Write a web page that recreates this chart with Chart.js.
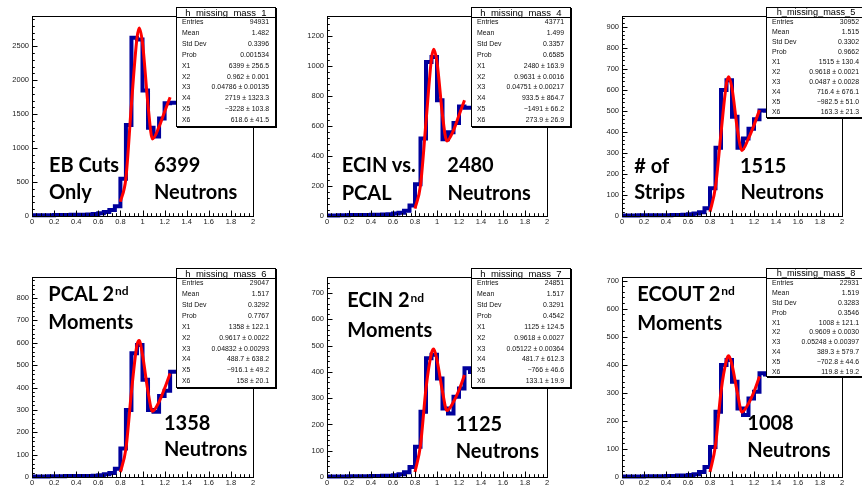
<!DOCTYPE html>
<html><head><meta charset="utf-8">
<script src="https://cdn.jsdelivr.net/npm/chart.js@4.4.1/dist/chart.umd.min.js"></script>
<style>
html,body{margin:0;padding:0;background:#fff;width:862px;height:486px;overflow:hidden;position:relative;font-family:"Liberation Sans",Arial,sans-serif;}
.pan{position:absolute;}
.stat{position:absolute;background:#fff;border:1px solid #000;box-shadow:1px 1px 0 #000;box-sizing:border-box;color:#111;width:100px;}
.stat .ttl{position:absolute;left:0;right:0;top:0;text-align:center;border-bottom:1px solid #000;box-sizing:border-box;color:#000;}
.stat .row{position:absolute;left:5px;right:6px;font-size:6.9px;white-space:nowrap;}
.stat .row .v{position:absolute;right:0;top:0;}
.big{position:absolute;font-family:Lato,"Noto Sans",sans-serif;font-weight:700;font-size:20px;line-height:20px;color:#000;white-space:nowrap;}
.big .sp{font-size:12px;position:relative;top:-5.5px;margin-left:1px;}
</style></head><body>
<script>
// ---------------- data ----------------
const binEdges = [0,0.05,0.1,0.15,0.2,0.25,0.3,0.35,0.4,0.45,0.5,0.55,0.6,0.65,0.7,0.75,0.8,0.85,0.9,0.95,1.0,1.05,1.1,1.15,1.2,1.25,1.3,1.35];
const counts1 = [10,10,12,12,13,14,15,17,19,20,23,28,40,60,90,145,550,1340,2625,2600,1850,1300,1170,1435,1660,1670,1670];
const counts2 = [4,4,5,5,6,6,7,7,8,9,10,12,16,22,35,70,212,516,1027,1060,771,512,558,620,730,722,722];
const counts3 = [2,2,2,3,3,3,3,4,4,5,5,6,8,12,18,37,132,325,599,646,472,325,368,415,460,502,500];
const counts4 = [2,2,2,3,3,3,4,4,4,5,5,6,8,12,18,37,127,299,553,590,435,300,292,362,385,470,470];
const counts5 = [2,2,2,2,3,3,3,3,4,4,5,5,7,10,18,38,115,248,452,465,375,261,242,305,337,414,400];
const counts6 = [2,2,2,2,3,3,3,3,4,4,5,5,7,10,18,36,107,233,399,417,340,244,221,280,304,370,365];

const fitX = [0.8,0.85,0.9,0.95,0.97,1.0,1.05,1.09,1.15,1.2,1.25];
const fit1 = [210,560,1650,2620,2770,2550,1630,1135,1315,1535,1750];
const fit2 = [49,205,627,1049,1111,1027,671,500,571,671,771];
const fit3 = [20,139,394,631,662,607,409,312,369,432,504];
const fit4 = [22,127,381,590,610,546,381,294,336,396,463];
const fit5 = [19,121,337,471,487,445,325,253,286,331,388];
const fit6 = [18,113,304,417,432,400,298,231,262,304,358];

const xTicks = [0,0.2,0.4,0.6,0.8,1.0,1.2,1.4,1.6,1.8,2.0];
const yTicks1 = [0,500,1000,1500,2000,2500];
const yTicks2 = [0,200,400,600,800,1000,1200];
const yTicks3 = [0,100,200,300,400,500,600,700,800,900];
const yTicks4 = [0,100,200,300,400,500,600,700,800];
const yTicks5 = [0,100,200,300,400,500,600,700];
const yTicks6 = [0,100,200,300,400,500,600,700];

const histNames = ['h_missing_mass_1','h_missing_mass_4','h_missing_mass_5','h_missing_mass_6','h_missing_mass_7','h_missing_mass_8'];
const statLabels = ['Entries','Mean','Std Dev','Prob','X1','X2','X3','X4','X5','X6'];
const stats1 = ['94931','1.482','0.3396','0.001534','6399 ± 256.5','0.962 ± 0.001','0.04786 ± 0.00135','2719 ± 1323.3','\u22123228 ± 103.8','618.6 ± 41.5'];
const stats2 = ['43771','1.499','0.3357','0.6585','2480 ± 163.9','0.9631 ± 0.0016','0.04751 ± 0.00217','933.5 ± 864.7','\u22121491 ± 66.2','273.9 ± 26.9'];
const stats3 = ['30952','1.515','0.3302','0.9662','1515 ± 130.4','0.9618 ± 0.0021','0.0487 ± 0.0028','716.4 ± 676.1','\u2212982.5 ± 51.0','163.3 ± 21.3'];
const stats4 = ['29047','1.517','0.3292','0.7767','1358 ± 122.1','0.9617 ± 0.0022','0.04832 ± 0.00293','488.7 ± 638.2','\u2212916.1 ± 49.2','158 ± 20.1'];
const stats5 = ['24851','1.517','0.3291','0.4542','1125 ± 124.5','0.9618 ± 0.0027','0.05122 ± 0.00364','481.7 ± 612.3','\u2212766 ± 46.6','133.1 ± 19.9'];
const stats6 = ['22931','1.519','0.3283','0.3546','1008 ± 121.1','0.9609 ± 0.0030','0.05248 ± 0.00397','389.3 ± 579.7','\u2212702.8 ± 44.6','119.8 ± 19.2'];

const notes1 = ['EB Cuts','Only','6399','Neutrons'];
const notes2 = ['ECIN vs.','PCAL','2480','Neutrons'];
const notes3 = ['# of','Strips','1515','Neutrons'];
const notes4 = ['PCAL 2|nd','Moments','1358','Neutrons'];
const notes5 = ['ECIN 2|nd','Moments','1125','Neutrons'];
const notes6 = ['ECOUT 2|nd','Moments','1008','Neutrons'];

// ---------------- layout (positions / sizes) ----------------
const frames = [[32,16,253,216],[327,16,547,216],[622,16,842,216],[32,277,253,477],[327,277,547,477],[622,277,842,477]];
const yMax = [2946,1333,951,894,761,713];
const yMinor = [100,40,20,20,20,20];
const boxes = [[176,7,10,10.9,9.5],[471,7,10,10.9,9.5],[766,7,10.3,9.93,9.2],[176,268,10.4,10.85,9.5],[471,268,10.4,10.85,9.5],[766,268,10.4,9.8,9.2]];
const notePos = [
  [[49,157],[49,184.5],[154,157],[154,184.8]],
  [[341.7,157.3],[341.7,185.7],[447.3,157.3],[447.6,185.7]],
  [[634.3,158.3],[634.3,184.5],[740,158.3],[740.5,184.8]],
  [[48.3,286],[48.3,314],[164,415],[164,441.7]],
  [[347.3,292.7],[347.3,322.3],[455.7,416.7],[455.7,443.3]],
  [[637.3,286],[637.3,315],[747.3,415],[747.3,442.7]]
];

const allCounts = [counts1,counts2,counts3,counts4,counts5,counts6];
const allFits = [fit1,fit2,fit3,fit4,fit5,fit6];
const allYTicks = [yTicks1,yTicks2,yTicks3,yTicks4,yTicks5,yTicks6];
const allStats = [stats1,stats2,stats3,stats4,stats5,stats6];
const allNotes = [notes1,notes2,notes3,notes4,notes5,notes6];

const PADL = 32, PADT = 8, PADR = 12, PADB = 14;

const rootAxes = {
  id: 'rootAxes',
  afterDatasetsDraw(chart, args, opts) {
    const {ctx, chartArea: a, scales: {x, y}} = chart;
    ctx.save();
    ctx.strokeStyle = '#000';
    ctx.lineWidth = 1;
    ctx.beginPath();
    const nx = Math.round((x.max - x.min) / opts.xMinor);
    for (let i = 0; i <= nx; i++) {
      const v = x.min + i * opts.xMinor;
      const px = Math.round(x.getPixelForValue(v)) + 0.5;
      const len = (i % 5 === 0) ? 5.5 : 2.8;
      ctx.moveTo(px, a.bottom);
      ctx.lineTo(px, a.bottom - len);
    }
    const ny = Math.floor(y.max / opts.yMinor + 1e-6);
    for (let i = 0; i <= ny; i++) {
      const v = i * opts.yMinor;
      const py = Math.round(y.getPixelForValue(v)) + 0.5;
      const len = (i % 5 === 0) ? 5.5 : 2.8;
      ctx.moveTo(a.left, py);
      ctx.lineTo(a.left + len, py);
    }
    ctx.stroke();
    ctx.strokeRect(Math.round(a.left) + 0.5, Math.round(a.top) + 0.5, Math.round(a.right - a.left), Math.round(a.bottom - a.top));
    ctx.restore();
  }
};

for (let p = 0; p < 6; p++) {
  const [l, t, r, b] = frames[p];
  const W = r - l + PADL + PADR, H = b - t + PADT + PADB;
  const div = document.createElement('div');
  div.className = 'pan';
  div.style.left = (l - PADL) + 'px';
  div.style.top = (t - PADT) + 'px';
  div.style.width = W + 'px';
  div.style.height = H + 'px';
  const cv = document.createElement('canvas');
  cv.width = W; cv.height = H;
  cv.style.width = W + 'px'; cv.style.height = H + 'px';
  div.appendChild(cv);
  document.body.appendChild(div);

  const counts = allCounts[p];
  const histPts = [];
  for (let i = 0; i < counts.length; i++) {
    histPts.push({x: binEdges[i], y: counts[i]});
    histPts.push({x: binEdges[i + 1], y: counts[i]});
  }
  const fitPts = fitX.map((xv, i) => ({x: xv, y: allFits[p][i]}));
  const yT = allYTicks[p];

  new Chart(cv, {
    type: 'line',
    data: {
      datasets: [
        {data: fitPts, borderColor: '#ff0000', borderWidth: 3, pointRadius: 0, fill: false, cubicInterpolationMode: 'monotone', clip: 4},
        {data: histPts, borderColor: '#00009c', borderWidth: 4, pointRadius: 0, fill: false, tension: 0, borderJoinStyle: 'miter', borderCapStyle: 'butt', clip: 4}
      ]
    },
    options: {
      animation: false, responsive: false, devicePixelRatio: 1, events: [],
      layout: {padding: {left: 0, top: PADT, right: PADR, bottom: 0}, autoPadding: false},
      plugins: {legend: {display: false}, tooltip: {enabled: false}, rootAxes: {xMinor: 0.04, yMinor: yMinor[p]}},
      scales: {
        x: {
          type: 'linear', min: 0, max: 2,
          grid: {display: false, drawTicks: false}, border: {display: false},
          afterBuildTicks: ax => { ax.ticks = xTicks.map(v => ({value: v})); },
          afterFit: ax => { ax.height = PADB; },
          ticks: {padding: 1, maxRotation: 0, autoSkip: false, color: '#222',
                  font: {family: 'Liberation Sans', size: 7.5},
                  callback: v => String(Math.round(v * 10) / 10)}
        },
        y: {
          type: 'linear', min: 0, max: yMax[p],
          grid: {display: false, drawTicks: false}, border: {display: false},
          afterBuildTicks: ax => { ax.ticks = yT.map(v => ({value: v})); },
          afterFit: ax => { ax.width = PADL; },
          ticks: {padding: 3, autoSkip: false, color: '#222',
                  font: {family: 'Liberation Sans', size: 7.5},
                  callback: v => String(v)}
        }
      }
    },
    plugins: [rootAxes]
  });

  const [bl, bt, th, rh, tf] = boxes[p];
  const box = document.createElement('div');
  box.className = 'stat';
  box.style.left = bl + 'px';
  box.style.top = bt + 'px';
  box.style.height = (th + 10 * rh + 1) + 'px';
  const ttl = document.createElement('div');
  ttl.className = 'ttl';
  ttl.style.height = th + 'px';
  ttl.style.lineHeight = (th - 1) + 'px';
  ttl.style.fontSize = tf + 'px';
  ttl.textContent = histNames[p];
  box.appendChild(ttl);
  statLabels.forEach((lab, i) => {
    const row = document.createElement('div');
    row.className = 'row';
    row.style.top = (th - 1 + i * rh) + 'px';
    row.style.height = rh + 'px';
    row.style.lineHeight = rh + 'px';
    const a = document.createElement('span'); a.textContent = lab;
    const v = document.createElement('span'); v.className = 'v'; v.textContent = allStats[p][i];
    row.appendChild(a); row.appendChild(v);
    box.appendChild(row);
  });
  document.body.appendChild(box);

  allNotes[p].forEach((txt, i) => {
    const d = document.createElement('div');
    d.className = 'big';
    const [nx, ny] = notePos[p][i];
    d.style.left = nx + 'px';
    d.style.top = (ny - 3.4) + 'px';
    const parts = txt.split('|');
    d.appendChild(document.createTextNode(parts[0]));
    if (parts[1]) {
      const s = document.createElement('span'); s.className = 'sp'; s.textContent = parts[1];
      d.appendChild(s);
    }
    document.body.appendChild(d);
  });
}
</script>
</body></html>
